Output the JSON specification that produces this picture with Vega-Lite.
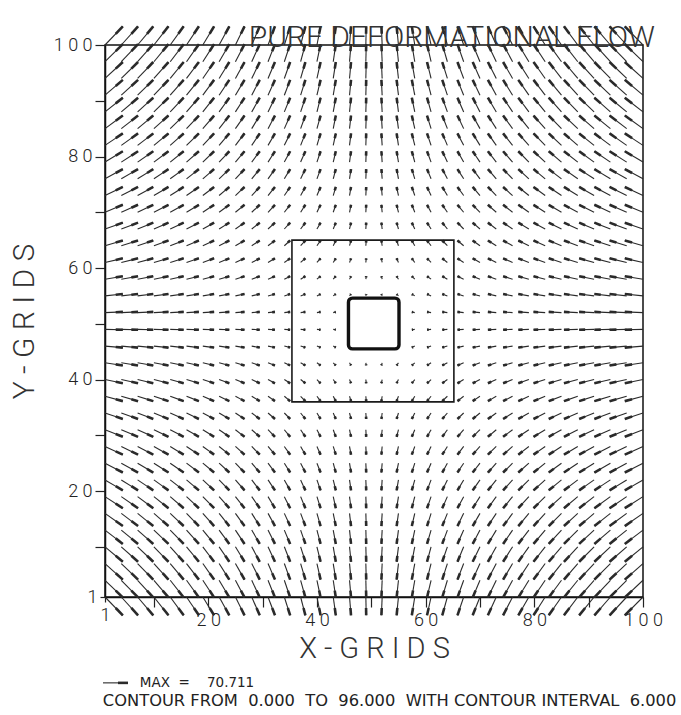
{
  "$schema": "https://vega.github.io/schema/vega-lite/v6.json",
  "width": 538,
  "height": 552,
  "autosize": {"type": "none"},
  "padding": {"left": 105, "top": 45, "right": 38, "bottom": 118},
  "background": "white",
  "config": {"view": {"stroke": "#111", "strokeWidth": 1.5}},
  "title": {"text": "PURE DEFORMATIONAL FLOW", "anchor": "end", "frame": "group", "dx": 12, "dy": 34, "offset": -18, "baseline": "alphabetic", "fontSize": 30, "font": "Roboto", "fontWeight": 300, "color": "#333"},
  "datasets": {
    "cols": [
      {"x":1,"xh":4.283,"xb":2.97},{"x":4,"xh":7.082,"xb":5.849},{"x":7,"xh":9.881,"xb":8.729},{"x":10,"xh":12.68,"xb":11.608},
      {"x":13,"xh":15.479,"xb":14.487},{"x":16,"xh":18.278,"xb":17.367},{"x":19,"xh":21.077,"xb":20.246},{"x":22,"xh":23.876,"xb":23.126},
      {"x":25,"xh":26.675,"xb":26.005},{"x":28,"xh":29.474,"xb":28.884},{"x":31,"xh":32.273,"xb":31.764},{"x":34,"xh":35.072,"xb":34.643},
      {"x":37,"xh":37.871,"xb":37.523},{"x":40,"xh":40.67,"xb":40.402},{"x":43,"xh":43.469,"xb":43.281},{"x":46,"xh":46.268,"xb":46.161},
      {"x":49,"xh":49.067,"xb":49.04},{"x":52,"xh":51.866,"xb":51.92},{"x":55,"xh":54.665,"xb":54.799},{"x":58,"xh":57.464,"xb":57.678},
      {"x":61,"xh":60.263,"xb":60.558},{"x":64,"xh":63.062,"xb":63.437},{"x":67,"xh":65.861,"xb":66.317},{"x":70,"xh":68.66,"xb":69.196},
      {"x":73,"xh":71.459,"xb":72.075},{"x":76,"xh":74.258,"xb":74.955},{"x":79,"xh":77.057,"xb":77.834},{"x":82,"xh":79.856,"xb":80.714},
      {"x":85,"xh":82.655,"xb":83.593},{"x":88,"xh":85.454,"xb":86.472},{"x":91,"xh":88.253,"xb":89.352},{"x":94,"xh":91.052,"xb":92.231},
      {"x":97,"xh":93.851,"xb":95.111},{"x":100,"xh":96.65,"xb":97.99}
    ],
    "rows": [
      {"y":1,"yh":-2.283,"yb":-0.97,"x":[1,4,7,10,13,16,19,22,25,28,31,34,37,40,43,46,49,52,55,58,61,64,67,70,73,76,79,82,85,88,91,94,97,100]},
      {"y":4,"yh":0.918,"yb":2.151,"x":[1,4,7,10,13,16,19,22,25,28,31,34,37,40,43,46,49,52,55,58,61,64,67,70,73,76,79,82,85,88,91,94,97,100]},
      {"y":7,"yh":4.119,"yb":5.271,"x":[1,4,7,10,13,16,19,22,25,28,31,34,37,40,43,46,49,52,55,58,61,64,67,70,73,76,79,82,85,88,91,94,97,100]},
      {"y":10,"yh":7.32,"yb":8.392,"x":[1,4,7,10,13,16,19,22,25,28,31,34,37,40,43,46,49,52,55,58,61,64,67,70,73,76,79,82,85,88,91,94,97,100]},
      {"y":13,"yh":10.521,"yb":11.513,"x":[1,4,7,10,13,16,19,22,25,28,31,34,37,40,43,46,49,52,55,58,61,64,67,70,73,76,79,82,85,88,91,94,97,100]},
      {"y":16,"yh":13.722,"yb":14.633,"x":[1,4,7,10,13,16,19,22,25,28,31,34,37,40,43,46,49,52,55,58,61,64,67,70,73,76,79,82,85,88,91,94,97,100]},
      {"y":19,"yh":16.923,"yb":17.754,"x":[1,4,7,10,13,16,19,22,25,28,31,34,37,40,43,46,49,52,55,58,61,64,67,70,73,76,79,82,85,88,91,94,97,100]},
      {"y":22,"yh":20.124,"yb":20.874,"x":[1,4,7,10,13,16,19,22,25,28,31,34,37,40,43,46,49,52,55,58,61,64,67,70,73,76,79,82,85,88,91,94,97,100]},
      {"y":25,"yh":23.325,"yb":23.995,"x":[1,4,7,10,13,16,19,22,25,28,31,34,37,40,43,46,49,52,55,58,61,64,67,70,73,76,79,82,85,88,91,94,97,100]},
      {"y":28,"yh":26.526,"yb":27.116,"x":[1,4,7,10,13,16,19,22,25,28,31,34,37,40,43,46,49,52,55,58,61,64,67,70,73,76,79,82,85,88,91,94,97,100]},
      {"y":31,"yh":29.727,"yb":30.236,"x":[1,4,7,10,13,16,19,22,25,28,31,34,37,40,43,46,49,52,55,58,61,64,67,70,73,76,79,82,85,88,91,94,97,100]},
      {"y":34,"yh":32.928,"yb":33.357,"x":[1,4,7,10,13,16,19,22,25,28,31,34,37,40,43,46,49,52,55,58,61,64,67,70,73,76,79,82,85,88,91,94,97,100]},
      {"y":37,"yh":36.129,"yb":36.477,"x":[1,4,7,10,13,16,19,22,25,28,31,34,37,40,43,46,49,52,55,58,61,64,67,70,73,76,79,82,85,88,91,94,97,100]},
      {"y":40,"yh":39.33,"yb":39.598,"x":[1,4,7,10,13,16,19,22,25,28,31,34,37,40,43,46,49,52,55,58,61,64,67,70,73,76,79,82,85,88,91,94,97,100]},
      {"y":43,"yh":42.531,"yb":42.719,"x":[1,4,7,10,13,16,19,22,25,28,31,34,37,40,43,46,49,52,55,58,61,64,67,70,73,76,79,82,85,88,91,94,97,100]},
      {"y":46,"yh":45.732,"yb":45.839,"x":[1,4,7,10,13,16,19,22,25,28,31,34,37,40,43,46,49,52,55,58,61,64,67,70,73,76,79,82,85,88,91,94,97,100]},
      {"y":49,"yh":48.933,"yb":48.96,"x":[1,4,7,10,13,16,19,22,25,28,31,34,37,40,43,46,49,52,55,58,61,64,67,70,73,76,79,82,85,88,91,94,97,100]},
      {"y":52,"yh":52.134,"yb":52.08,"x":[1,4,7,10,13,16,19,22,25,28,31,34,37,40,43,46,49,52,55,58,61,64,67,70,73,76,79,82,85,88,91,94,97,100]},
      {"y":55,"yh":55.335,"yb":55.201,"x":[1,4,7,10,13,16,19,22,25,28,31,34,37,40,43,46,49,52,55,58,61,64,67,70,73,76,79,82,85,88,91,94,97,100]},
      {"y":58,"yh":58.536,"yb":58.322,"x":[1,4,7,10,13,16,19,22,25,28,31,34,37,40,43,46,49,52,55,58,61,64,67,70,73,76,79,82,85,88,91,94,97,100]},
      {"y":61,"yh":61.737,"yb":61.442,"x":[1,4,7,10,13,16,19,22,25,28,31,34,37,40,43,46,49,52,55,58,61,64,67,70,73,76,79,82,85,88,91,94,97,100]},
      {"y":64,"yh":64.938,"yb":64.563,"x":[1,4,7,10,13,16,19,22,25,28,31,34,37,40,43,46,49,52,55,58,61,64,67,70,73,76,79,82,85,88,91,94,97,100]},
      {"y":67,"yh":68.139,"yb":67.683,"x":[1,4,7,10,13,16,19,22,25,28,31,34,37,40,43,46,49,52,55,58,61,64,67,70,73,76,79,82,85,88,91,94,97,100]},
      {"y":70,"yh":71.34,"yb":70.804,"x":[1,4,7,10,13,16,19,22,25,28,31,34,37,40,43,46,49,52,55,58,61,64,67,70,73,76,79,82,85,88,91,94,97,100]},
      {"y":73,"yh":74.541,"yb":73.925,"x":[1,4,7,10,13,16,19,22,25,28,31,34,37,40,43,46,49,52,55,58,61,64,67,70,73,76,79,82,85,88,91,94,97,100]},
      {"y":76,"yh":77.742,"yb":77.045,"x":[1,4,7,10,13,16,19,22,25,28,31,34,37,40,43,46,49,52,55,58,61,64,67,70,73,76,79,82,85,88,91,94,97,100]},
      {"y":79,"yh":80.943,"yb":80.166,"x":[1,4,7,10,13,16,19,22,25,28,31,34,37,40,43,46,49,52,55,58,61,64,67,70,73,76,79,82,85,88,91,94,97,100]},
      {"y":82,"yh":84.144,"yb":83.286,"x":[1,4,7,10,13,16,19,22,25,28,31,34,37,40,43,46,49,52,55,58,61,64,67,70,73,76,79,82,85,88,91,94,97,100]},
      {"y":85,"yh":87.345,"yb":86.407,"x":[1,4,7,10,13,16,19,22,25,28,31,34,37,40,43,46,49,52,55,58,61,64,67,70,73,76,79,82,85,88,91,94,97,100]},
      {"y":88,"yh":90.546,"yb":89.528,"x":[1,4,7,10,13,16,19,22,25,28,31,34,37,40,43,46,49,52,55,58,61,64,67,70,73,76,79,82,85,88,91,94,97,100]},
      {"y":91,"yh":93.747,"yb":92.648,"x":[1,4,7,10,13,16,19,22,25,28,31,34,37,40,43,46,49,52,55,58,61,64,67,70,73,76,79,82,85,88,91,94,97,100]},
      {"y":94,"yh":96.948,"yb":95.769,"x":[1,4,7,10,13,16,19,22,25,28,31,34,37,40,43,46,49,52,55,58,61,64,67,70,73,76,79,82,85,88,91,94,97,100]},
      {"y":97,"yh":100.149,"yb":98.889,"x":[1,4,7,10,13,16,19,22,25,28,31,34,37,40,43,46,49,52,55,58,61,64,67,70,73,76,79,82,85,88,91,94,97,100]},
      {"y":100,"yh":103.35,"yb":102.01,"x":[1,4,7,10,13,16,19,22,25,28,31,34,37,40,43,46,49,52,55,58,61,64,67,70,73,76,79,82,85,88,91,94,97,100]}
    ],
    "one": [{}]
  },
  "layer": [
    {
      "data": {"name": "rows"},
      "transform": [
        {"flatten": ["x"]},
        {"lookup": "x", "from": {"data": {"name": "cols"}, "key": "x", "fields": ["xh", "xb"]}}
      ],
      "layer": [
        {
          "mark": {"type": "rule", "color": "#2a2a2a", "strokeWidth": 1.1},
          "encoding": {
            "x": {"field": "x", "type": "quantitative", "scale": {"domain": [1, 100], "nice": false, "zero": false},
              "axis": {"title": "X - G R I D S", "values": [1,5,10,15,20,25,30,35,40,45,50,55,60,65,70,75,80,85,90,95,100],
                "labelExpr": "datum.value == 1 || datum.value % 20 == 0 ? join(split(datum.label, ''), ' ') : ''",
                "tickSize": {"condition": {"test": "datum.value % 10 == 0", "value": 10}, "value": 5},
                "grid": false, "labelFont": "Roboto", "labelFontWeight": 300, "labelFontSize": 18, "labelColor": "#222",
                "labelPadding": 4, "labelFlush": false, "labelOverlap": false, "labelBound": false,
                "tickColor": "#222", "tickWidth": 1.2, "domainColor": "#111", "domainWidth": 1.5,
                "titleFont": "Roboto", "titleFontWeight": 300, "titleFontSize": 29, "titleColor": "#333", "titlePadding": 5}},
            "y": {"field": "y", "type": "quantitative", "scale": {"domain": [1, 100], "nice": false, "zero": false},
              "axis": {"title": "Y - G R I D S", "values": [1,5,10,15,20,25,30,35,40,45,50,55,60,65,70,75,80,85,90,95,100],
                "labelExpr": "datum.value == 1 || datum.value % 20 == 0 ? join(split(datum.label, ''), ' ') : ''",
                "tickSize": {"condition": {"test": "datum.value % 10 == 0", "value": 10}, "value": 5},
                "grid": false, "labelFont": "Roboto", "labelFontWeight": 300, "labelFontSize": 18, "labelColor": "#222",
                "labelPadding": 3, "labelFlush": false, "labelOverlap": false, "labelBound": false,
                "tickColor": "#222", "tickWidth": 1.2, "domainColor": "#111", "domainWidth": 1.5,
                "titleFont": "Roboto", "titleFontWeight": 300, "titleFontSize": 30, "titleColor": "#333", "titlePadding": 14}},
            "x2": {"field": "xh"},
            "y2": {"field": "yh"}
          }
        },
        {
          "mark": {"type": "rule", "color": "#2a2a2a", "strokeWidth": 2.6},
          "encoding": {
            "x": {"field": "xb", "type": "quantitative", "title": "X - G R I D S"},
            "y": {"field": "yb", "type": "quantitative", "title": "Y - G R I D S"},
            "x2": {"field": "xh"},
            "y2": {"field": "yh"}
          }
        }
      ]
    },
    {
      "data": {"name": "one"},
      "layer": [
        {
          "mark": {"type": "rect", "fill": "transparent", "stroke": "#1a1a1a", "strokeWidth": 1.6},
          "encoding": {
            "x": {"datum": 35.4, "type": "quantitative"}, "x2": {"datum": 65.2},
            "y": {"datum": 36, "type": "quantitative"}, "y2": {"datum": 65}
          }
        },
        {
          "mark": {"type": "rect", "fill": "white", "stroke": "#111", "strokeWidth": 3.4, "cornerRadius": 4},
          "encoding": {
            "x": {"datum": 45.8, "type": "quantitative"}, "x2": {"datum": 55.1},
            "y": {"datum": 45.5, "type": "quantitative"}, "y2": {"datum": 54.6}
          }
        },
        {
          "mark": {"type": "rule", "color": "#2a2a2a", "strokeWidth": 1.1},
          "encoding": {"x": {"datum": 0.63, "type": "quantitative"}, "x2": {"datum": 5.23}, "y": {"datum": -14.4, "type": "quantitative"}}
        },
        {
          "mark": {"type": "rule", "color": "#2a2a2a", "strokeWidth": 2.6},
          "encoding": {"x": {"datum": 3.39, "type": "quantitative"}, "x2": {"datum": 5.23}, "y": {"datum": -14.4, "type": "quantitative"}}
        },
        {
          "mark": {"type": "text", "align": "left", "baseline": "middle", "font": "DejaVu Sans", "fontSize": 13.5, "color": "#222"},
          "encoding": {"x": {"datum": 7.4, "type": "quantitative"}, "y": {"datum": -14.4, "type": "quantitative"}, "text": {"value": "MAX \u00a0= \u00a0\u00a0 70.711"}}
        },
        {
          "mark": {"type": "text", "align": "left", "baseline": "middle", "font": "DejaVu Sans", "fontSize": 16.3, "color": "#222"},
          "encoding": {"x": {"datum": 0.6, "type": "quantitative"}, "y": {"datum": -17.6, "type": "quantitative"}, "text": {"value": "CONTOUR FROM \u00a00.000 \u00a0TO \u00a096.000 \u00a0WITH CONTOUR INTERVAL \u00a06.000"}}
        }
      ]
    }
  ]
}
